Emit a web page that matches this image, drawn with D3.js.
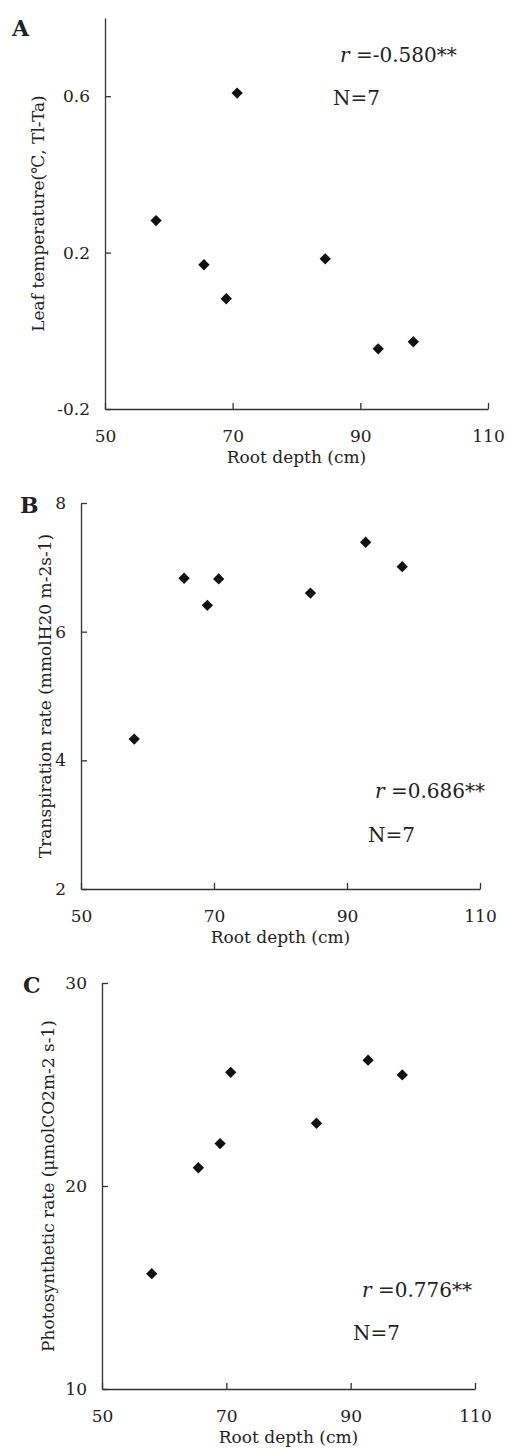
<!DOCTYPE html>
<html>
<head>
<meta charset="utf-8">
<script src="https://cdn.jsdelivr.net/npm/d3@7"></script>
<style>
  body { margin: 0; background: #fff; }
  svg { display: block; }
  text { font-family: "DejaVu Serif", "Liberation Serif", serif; fill: #222; }
  .domain, .tick line { stroke: #333; stroke-width: 1.3; }
</style>
</head>
<body>
<svg id="chart" width="507" height="1448"></svg>
<script>
// root depth (cm) of the seven samples
const rootDepth = [58.0, 65.5, 69.0, 70.7, 84.5, 92.8, 98.3];
// leaf temperature difference Tl-Ta (°C)
const leafTemp = [0.282, 0.169, 0.082, 0.608, 0.184, -0.046, -0.028];
// transpiration rate (mmol H2O m-2 s-1)
const transpiration = [4.33, 6.83, 6.41, 6.82, 6.60, 7.39, 7.01];
// photosynthetic rate (µmol CO2 m-2 s-1)
const photosynthesis = [15.68, 20.9, 22.09, 25.6, 23.09, 26.2, 25.47];

const xTicks = [50, 70, 90, 110];
const leafTicks = [-0.2, 0.2, 0.6];
const transTicks = [2, 4, 6, 8];
const photoTicks = [10, 20, 30];

// plain hyphen for negatives, like the original figure
const fmt1 = function(d) { return d.toFixed(1); };
const fmt0 = function(d) { return String(d); };

const panels = [
  {
    letter: 'A', values: leafTemp, yDomain: [-0.2, 0.8], yTicks: leafTicks,
    yFormat: fmt1,
    yTitle: 'Leaf temperature(\u2103, Tl-Ta)', r: '=-0.580**',
    box: {left: 105, right: 488, top: 18, bottom: 409},
    letterPos: [12, 36], titleX: 38, rPos: [340, 62], nPos: [333, 105]
  },
  {
    letter: 'B', values: transpiration, yDomain: [2, 8], yTicks: transTicks,
    yFormat: fmt0,
    yTitle: 'Transpiration rate (mmolH20 m-2s-1)', r: '=0.686**',
    box: {left: 81, right: 480, top: 503, bottom: 889},
    letterPos: [20, 513], titleX: 45, rPos: [375, 798], nPos: [368, 842]
  },
  {
    letter: 'C', values: photosynthesis, yDomain: [10, 30], yTicks: photoTicks,
    yFormat: fmt0,
    yTitle: 'Photosynthetic rate (\u03bcmolCO2m-2 s-1)', r: '=0.776**',
    box: {left: 102, right: 475, top: 983, bottom: 1389},
    letterPos: [23, 993], titleX: 48, rPos: [362, 1297], nPos: [353, 1340]
  }
];

const svg = d3.select('#chart');
const diamond = d3.symbol().type(d3.symbolSquare).size(64);

panels.forEach(function(p) {
  const b = p.box;
  const x = d3.scaleLinear().domain([50, 110]).range([b.left, b.right]);
  const y = d3.scaleLinear().domain(p.yDomain).range([b.bottom, b.top]);
  const g = svg.append('g');

  g.append('g')
    .attr('transform', 'translate(0,' + b.bottom + ')')
    .call(d3.axisBottom(x).tickValues(xTicks).tickSizeInner(-6).tickSizeOuter(0).tickPadding(21))
    .call(function(a) { a.selectAll('text').style('font-size', '17px').attr('fill', '#222'); });

  g.append('g')
    .attr('transform', 'translate(' + b.left + ',0)')
    .call(d3.axisLeft(y).tickValues(p.yTicks).tickFormat(p.yFormat).tickSizeInner(-6).tickSizeOuter(0).tickPadding(15))
    .call(function(a) { a.selectAll('text').style('font-size', '17px').attr('fill', '#222'); });

  g.append('text')
    .attr('x', (b.left + b.right) / 2)
    .attr('y', b.bottom + 54)
    .attr('text-anchor', 'middle')
    .style('font-size', '17px')
    .text('Root depth (cm)');

  g.append('text')
    .attr('transform', 'translate(' + p.titleX + ',' + (b.top + b.bottom) / 2 + ') rotate(-90)')
    .attr('text-anchor', 'middle')
    .attr('dy', '0.35em')
    .style('font-size', '17px')
    .text(p.yTitle);

  g.append('text')
    .attr('x', p.letterPos[0])
    .attr('y', p.letterPos[1])
    .style('font-size', '22px')
    .style('font-weight', 'bold')
    .text(p.letter);

  const rText = g.append('text')
    .attr('x', p.rPos[0])
    .attr('y', p.rPos[1])
    .style('font-size', '20px');
  rText.append('tspan').style('font-style', 'italic').text('r');
  rText.append('tspan').text(' ' + p.r);

  g.append('text')
    .attr('x', p.nPos[0])
    .attr('y', p.nPos[1])
    .style('font-size', '20px')
    .text('N=7');

  g.selectAll('path.pt')
    .data(rootDepth)
    .enter()
    .append('path')
    .attr('class', 'pt')
    .attr('d', diamond)
    .attr('fill', '#111')
    .attr('transform', function(d, i) {
      return 'translate(' + x(d) + ',' + y(p.values[i]) + ') rotate(45)';
    });
});
</script>
</body>
</html>
